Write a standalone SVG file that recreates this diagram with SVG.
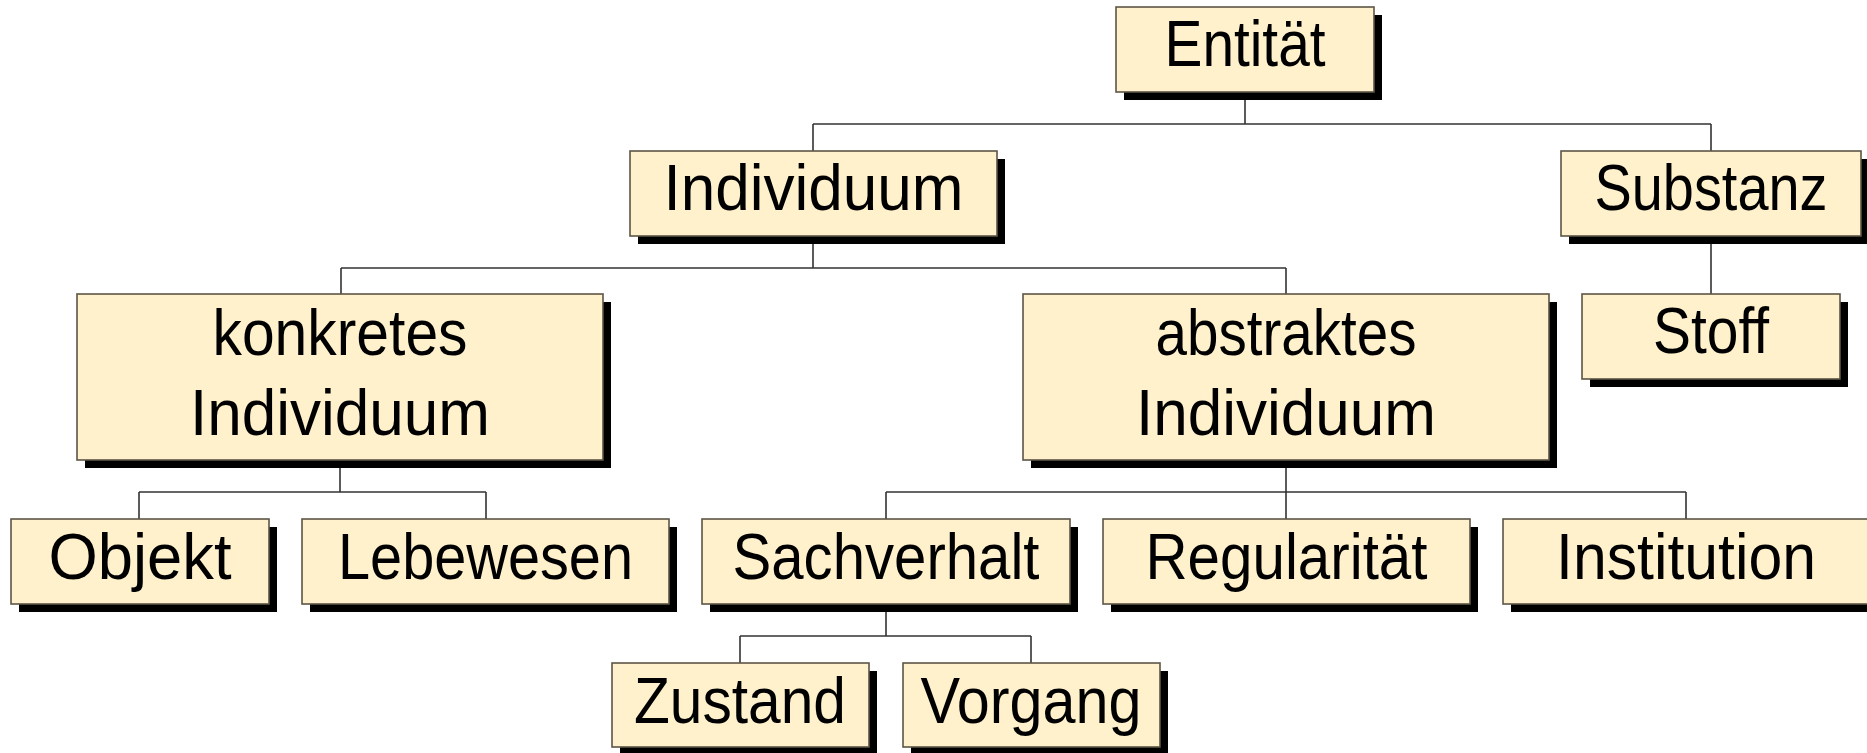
<svg xmlns="http://www.w3.org/2000/svg" width="1867" height="753" viewBox="0 0 1867 753">
<style>
.shadow{fill:#000}
.box{fill:#FEF1CB;stroke:#5C5645;stroke-width:1.6}
.lbl{font-family:"Liberation Sans",Arial,sans-serif;font-size:64px;fill:#000;text-anchor:middle}
.conn{fill:none;stroke:#333;stroke-width:1.6}
</style>
<rect width="1867" height="753" fill="#fff"/>
<g id="connectors">
<path class="conn" d="M1245 92V124M813 124H1711M813 124V151M1711 124V151"/>
<path class="conn" d="M813 236V268M341 268H1286M341 268V294M1286 268V294"/>
<path class="conn" d="M1711 236V294"/>
<path class="conn" d="M340 460V492M139 492H486M139 492V519M486 492V519"/>
<path class="conn" d="M1286 460V492M886 492H1686M886 492V519M1286 492V519M1686 492V519"/>
<path class="conn" d="M886 604V636M740 636H1031M740 636V663M1031 636V663"/>
</g>
<g id="entitaet">
<rect class="shadow" x="1124" y="15" width="258" height="85"/>
<rect class="box" x="1116" y="7" width="258" height="85"/>
<text class="lbl" x="1245" y="66" textLength="161" lengthAdjust="spacingAndGlyphs">Entität</text>
</g>
<g id="individuum">
<rect class="shadow" x="638" y="159" width="367" height="85"/>
<rect class="box" x="630" y="151" width="367" height="85"/>
<text class="lbl" x="813.5" y="210" textLength="300" lengthAdjust="spacingAndGlyphs">Individuum</text>
</g>
<g id="substanz">
<rect class="shadow" x="1569" y="159" width="300" height="85"/>
<rect class="box" x="1561" y="151" width="300" height="85"/>
<text class="lbl" x="1711" y="210" textLength="233" lengthAdjust="spacingAndGlyphs">Substanz</text>
</g>
<g id="konkretes">
<rect class="shadow" x="85" y="302" width="526" height="166"/>
<rect class="box" x="77" y="294" width="526" height="166"/>
<text class="lbl" x="340" y="355" textLength="255" lengthAdjust="spacingAndGlyphs">konkretes</text>
<text class="lbl" x="340" y="435" textLength="300" lengthAdjust="spacingAndGlyphs">Individuum</text>
</g>
<g id="abstraktes">
<rect class="shadow" x="1031" y="302" width="526" height="166"/>
<rect class="box" x="1023" y="294" width="526" height="166"/>
<text class="lbl" x="1286" y="355" textLength="261" lengthAdjust="spacingAndGlyphs">abstraktes</text>
<text class="lbl" x="1286" y="435" textLength="300" lengthAdjust="spacingAndGlyphs">Individuum</text>
</g>
<g id="stoff">
<rect class="shadow" x="1590" y="302" width="258" height="85"/>
<rect class="box" x="1582" y="294" width="258" height="85"/>
<text class="lbl" x="1711" y="353" textLength="116" lengthAdjust="spacingAndGlyphs">Stoff</text>
</g>
<g id="objekt">
<rect class="shadow" x="19" y="527" width="258" height="85"/>
<rect class="box" x="11" y="519" width="258" height="85"/>
<text class="lbl" x="140" y="579" textLength="183" lengthAdjust="spacingAndGlyphs">Objekt</text>
</g>
<g id="lebewesen">
<rect class="shadow" x="310" y="527" width="367" height="85"/>
<rect class="box" x="302" y="519" width="367" height="85"/>
<text class="lbl" x="485.5" y="579" textLength="295" lengthAdjust="spacingAndGlyphs">Lebewesen</text>
</g>
<g id="sachverhalt">
<rect class="shadow" x="710" y="527" width="368" height="85"/>
<rect class="box" x="702" y="519" width="368" height="85"/>
<text class="lbl" x="886" y="579" textLength="307" lengthAdjust="spacingAndGlyphs">Sachverhalt</text>
</g>
<g id="regularitaet">
<rect class="shadow" x="1111" y="527" width="367" height="85"/>
<rect class="box" x="1103" y="519" width="367" height="85"/>
<text class="lbl" x="1286.5" y="579" textLength="282" lengthAdjust="spacingAndGlyphs">Regularität</text>
</g>
<g id="institution">
<rect class="shadow" x="1511" y="527" width="367" height="85"/>
<rect class="box" x="1503" y="519" width="367" height="85"/>
<text class="lbl" x="1686" y="579" textLength="260" lengthAdjust="spacingAndGlyphs">Institution</text>
</g>
<g id="zustand">
<rect class="shadow" x="620" y="671" width="257" height="85"/>
<rect class="box" x="612" y="663" width="257" height="84"/>
<text class="lbl" x="740" y="723" textLength="212" lengthAdjust="spacingAndGlyphs">Zustand</text>
</g>
<g id="vorgang">
<rect class="shadow" x="911" y="671" width="257" height="85"/>
<rect class="box" x="903" y="663" width="257" height="84"/>
<text class="lbl" x="1031" y="723" textLength="221" lengthAdjust="spacingAndGlyphs">Vorgang</text>
</g>
</svg>
